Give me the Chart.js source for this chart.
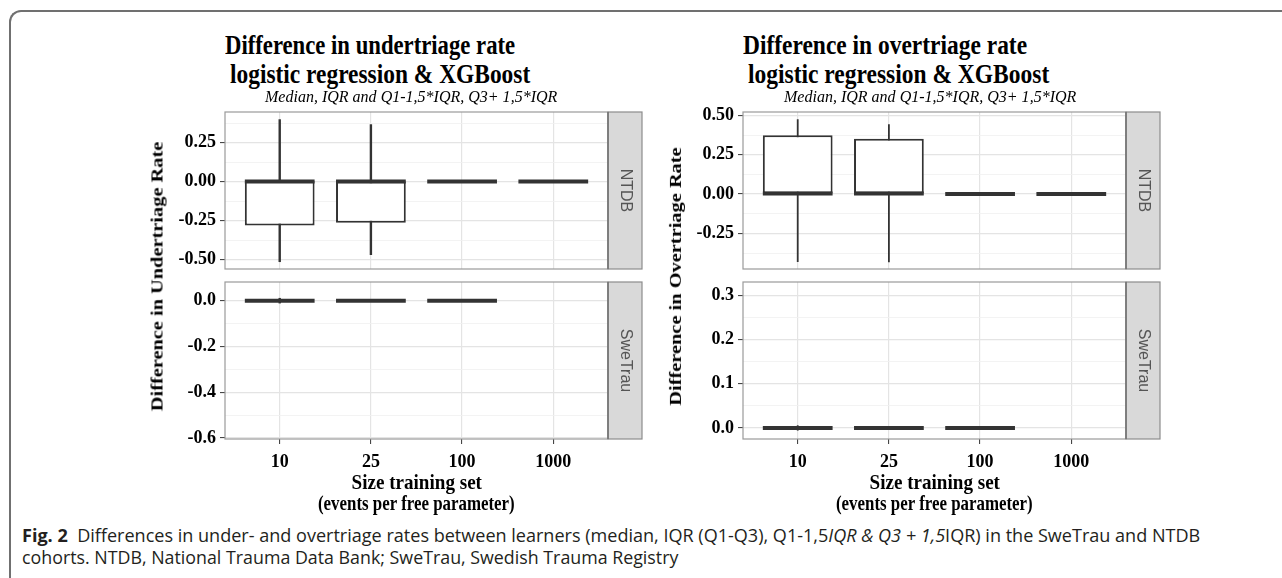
<!DOCTYPE html>
<html>
<head>
<meta charset="utf-8">
<script src="https://cdn.jsdelivr.net/npm/chart.js@4.4.1/dist/chart.umd.min.js"></script>
<style>
  html, body { margin: 0; padding: 0; background: #fff; }
  body { width: 1282px; height: 578px; position: relative; overflow: hidden; }
  #frame { position: absolute; left: 9px; top: 10px; width: 1400px; height: 700px;
           border-top: 2px solid #707070; border-left: 2px solid #707070; border-top-left-radius: 12px; }
  canvas { position: absolute; }
  .t { position: absolute; white-space: nowrap; line-height: 1.15; }
</style>
</head>
<body>
<div id="frame"></div>
<script>
// categories on the x axis
const sizes = ['10', '25', '100', '1000'];

// undertriage difference, NTDB
const underNtdbQ1 = [-0.281, -0.264, 0, 0];
const underNtdbMed = [0, 0, 0, 0];
const underNtdbQ3 = [0.004, 0.003, 0, 0];
const underNtdbLo = [-0.515, -0.470, 0, 0];
const underNtdbHi = [0.399, 0.367, 0, 0];

// undertriage difference, SweTrau (no box at 1000)
const underSweQ1 = [0, 0, 0, null];
const underSweMed = [0, 0, 0, null];
const underSweQ3 = [0, 0, 0, null];
const underSweLo = [-0.012, 0, 0, null];
const underSweHi = [0.012, 0, 0, null];

// overtriage difference, NTDB
const overNtdbQ1 = [0, 0, 0, 0];
const overNtdbMed = [0.004, 0.004, 0, 0];
const overNtdbQ3 = [0.373, 0.352, 0, 0];
const overNtdbLo = [-0.431, -0.433, 0, 0];
const overNtdbHi = [0.475, 0.443, 0, 0];

// overtriage difference, SweTrau
const overSweQ1 = [0, 0, 0, null];
const overSweMed = [0, 0, 0, null];
const overSweQ3 = [0, 0, 0, null];
const overSweLo = [-0.006, 0, 0, null];
const overSweHi = [0.006, 0, 0, null];

// y ticks and limits per facet
const underNtdbTicks = [-0.5, -0.25, 0, 0.25];
const underNtdbTickLabels = ['-0.50', '-0.25', '0.00', '0.25'];
const underNtdbRange = [-0.5595, 0.4455];
const underSweTicks = [-0.6, -0.4, -0.2, 0];
const underSweTickLabels = ['-0.6', '-0.4', '-0.2', '0.0'];
const underSweRange = [-0.6044, 0.0816];
const overNtdbTicks = [-0.25, 0, 0.25, 0.5];
const overNtdbTickLabels = ['-0.25', '0.00', '0.25', '0.50'];
const overNtdbRange = [-0.4755, 0.521];
const overSweTicks = [0, 0.1, 0.2, 0.3];
const overSweTickLabels = ['0.0', '0.1', '0.2', '0.3'];
const overSweRange = [-0.025, 0.330];

Chart.defaults.font.family = '"Liberation Serif", "Times New Roman", serif';

const PAD = 16, AXIS_W = 95, STRIP_W = 34, XAXIS_H = 40;
const tickFont = { family: '"Liberation Serif", "Times New Roman", serif', size: 18, weight: 'bold' };

const facetPlugin = {
  id: 'facet',
  afterDatasetsDraw(chart) {
    const ctx = chart.ctx;
    const meta = chart.getDatasetMeta(0);
    const y = chart.scales.y;
    ctx.save();
    ctx.strokeStyle = '#333';
    ctx.lineWidth = 4;
    meta.data.forEach((bar, j) => {
      const raw = chart.data.datasets[0].data[j];
      const py = y.getPixelForValue(raw.med);
      ctx.beginPath();
      ctx.moveTo(bar.x - bar.width / 2, py);
      ctx.lineTo(bar.x + bar.width / 2, py);
      ctx.stroke();
    });
    ctx.restore();
  },
  afterDraw(chart, args, opts) {
    const a = chart.chartArea;
    const ctx = chart.ctx;
    const h = a.bottom - a.top;
    ctx.save();
    ctx.fillStyle = '#d9d9d9';
    ctx.fillRect(a.right, a.top, STRIP_W, h);
    ctx.strokeStyle = '#8c8c8c';
    ctx.lineWidth = 1.2;
    ctx.strokeRect(a.right, a.top, STRIP_W, h);
    ctx.strokeStyle = '#9a9a9a';
    ctx.strokeRect(a.left, a.top, a.right - a.left, h);
    ctx.strokeStyle = '#666';
    ctx.beginPath();
    ctx.moveTo(a.right, a.top);
    ctx.lineTo(a.right, a.bottom);
    ctx.stroke();
    ctx.translate(a.right + STRIP_W / 2, a.top + h / 2);
    ctx.rotate(Math.PI / 2);
    ctx.fillStyle = '#555';
    ctx.font = '16px "Liberation Sans", Arial, sans-serif';
    ctx.textAlign = 'center';
    ctx.textBaseline = 'middle';
    ctx.fillText(opts.label, 0, 0);
    ctx.restore();
  }
};

function facet(cfg) {
  const showX = cfg.showX;
  const cv = document.createElement('canvas');
  cv.width = PAD + AXIS_W + cfg.w + STRIP_W + 6;
  cv.height = PAD + cfg.h + (showX ? XAXIS_H : 0) + PAD;
  document.body.appendChild(cv);

  const boxes = [], whiskers = [];
  sizes.forEach((s, i) => {
    if (cfg.q1[i] === null) return;
    boxes.push({ x: i + 1, y: [cfg.q1[i], cfg.q3[i]], med: cfg.med[i] });
    whiskers.push({ x: i + 1, y: [cfg.lo[i], cfg.hi[i]] });
  });

  // major ticks plus the minor ones halfway between them
  const step = cfg.ticks[1] - cfg.ticks[0];
  const yTicks = [];
  cfg.ticks.forEach((v, i) => {
    yTicks.push({ value: v, label: cfg.labels[i], minor: false });
    yTicks.push({ value: v + step / 2, label: '', minor: true });
  });
  yTicks.unshift({ value: cfg.ticks[0] - step / 2, label: '', minor: true });
  const inside = yTicks.filter(t => t.value >= cfg.range[0] && t.value <= cfg.range[1]);

  const chart = new Chart(cv, {
    type: 'bar',
    data: {
      datasets: [
        { data: boxes, backgroundColor: '#fff', borderColor: '#333', borderWidth: 2,
          borderSkipped: false, grouped: false, categoryPercentage: 1, barPercentage: 0.765, order: 1 },
        { data: whiskers, backgroundColor: '#333', borderWidth: 0, grouped: false,
          maxBarThickness: cfg.whisker, order: 2 }
      ]
    },
    options: {
      responsive: false,
      animation: false,
      layout: { padding: { left: PAD, top: PAD, bottom: PAD, right: STRIP_W + 6 } },
      plugins: {
        legend: { display: false },
        tooltip: { enabled: false },
        facet: { label: cfg.strip }
      },
      scales: {
        x: {
          type: 'linear', min: 0.4, max: 4.6, offset: false,
          afterBuildTicks: s => { s.ticks = sizes.map((v, i) => ({ value: i + 1 })); },
          afterFit: s => { s.height = showX ? XAXIS_H : 0; },
          ticks: { display: showX, autoSkip: false, maxRotation: 0, padding: 8,
                   font: tickFont, color: '#000', callback: (v, i) => sizes[i] },
          grid: { offset: false, color: '#e4e4e4', lineWidth: 1.2, drawTicks: showX,
                  tickLength: 5, tickColor: '#333', tickWidth: 1 },
          border: { display: false }
        },
        y: {
          min: cfg.range[0], max: cfg.range[1],
          afterBuildTicks: s => { s.ticks = inside.map(t => ({ value: t.value })); },
          afterFit: s => { s.width = AXIS_W; },
          ticks: { autoSkip: false, padding: 4, font: tickFont, color: '#000',
                   callback: (v, i) => inside[i].label },
          grid: {
            color: c => (inside[c.index] && inside[c.index].minor) ? '#f0f0f0' : '#e4e4e4',
            lineWidth: c => (inside[c.index] && inside[c.index].minor) ? 0.8 : 1.2,
            tickLength: 5, tickWidth: 1,
            tickColor: c => (inside[c.index] && inside[c.index].minor) ? 'rgba(0,0,0,0)' : '#333'
          },
          border: { display: false }
        }
      }
    },
    plugins: [facetPlugin]
  });

  const a = chart.chartArea;
  cv.style.left = (cfg.x - a.left) + 'px';
  cv.style.top = (cfg.y - a.top) + 'px';
  return chart;
}

facet({ x: 225, y: 112, w: 383, h: 157, strip: 'NTDB', showX: false, whisker: 2.4,
        q1: underNtdbQ1, med: underNtdbMed, q3: underNtdbQ3, lo: underNtdbLo, hi: underNtdbHi,
        ticks: underNtdbTicks, labels: underNtdbTickLabels, range: underNtdbRange });
facet({ x: 225, y: 282, w: 383, h: 157, strip: 'SweTrau', showX: true, whisker: 2.4,
        q1: underSweQ1, med: underSweMed, q3: underSweQ3, lo: underSweLo, hi: underSweHi,
        ticks: underSweTicks, labels: underSweTickLabels, range: underSweRange });
facet({ x: 743, y: 112, w: 383, h: 157, strip: 'NTDB', showX: false, whisker: 1.8,
        q1: overNtdbQ1, med: overNtdbMed, q3: overNtdbQ3, lo: overNtdbLo, hi: overNtdbHi,
        ticks: overNtdbTicks, labels: overNtdbTickLabels, range: overNtdbRange });
facet({ x: 743, y: 282, w: 383, h: 157, strip: 'SweTrau', showX: true, whisker: 1.8,
        q1: overSweQ1, med: overSweMed, q3: overSweQ3, lo: overSweLo, hi: overSweHi,
        ticks: overSweTicks, labels: overSweTickLabels, range: overSweRange });

// text outside the plots, squeezed to the widths seen in the figure
function text(html, o) {
  const el = document.createElement('div');
  el.className = 't';
  el.innerHTML = html;
  el.style.font = o.font;
  el.style.color = o.color || '#000';
  document.body.appendChild(el);
  const w = el.offsetWidth, h = el.offsetHeight;
  const k = o.width ? o.width / w : 1;
  const sy = o.sy || 1;
  el.style.top = (o.y - h / 2) + 'px';
  if (o.align === 'left') {
    el.style.left = o.x + 'px';
    el.style.transformOrigin = '0 50%';
    el.style.transform = `scale(${k}, ${sy})`;
  } else {
    el.style.left = (o.x - w / 2) + 'px';
    el.style.transform = `rotate(${o.rot || 0}deg) scale(${k}, ${sy})`;
  }
}

const serif = '"Liberation Serif", "Times New Roman", serif';
const titleFont = `bold 27px ${serif}`;
text('Difference in undertriage rate', { font: titleFont, x: 225, y: 45, width: 290, align: 'left' });
text('logistic regression &amp; XGBoost', { font: titleFont, x: 230, y: 74, width: 300, align: 'left' });
text('Difference in overtriage rate', { font: titleFont, x: 743, y: 45, width: 284, align: 'left' });
text('logistic regression &amp; XGBoost', { font: titleFont, x: 748, y: 74, width: 301, align: 'left' });

const subFont = `italic 17px ${serif}`;
text('Median, IQR and Q1-1,5*IQR, Q3+ 1,5*IQR', { font: subFont, x: 411, y: 97, width: 292 });
text('Median, IQR and Q1-1,5*IQR, Q3+ 1,5*IQR', { font: subFont, x: 930, y: 97, width: 292 });

const axisFont = `bold 20px ${serif}`;
text('Difference in Undertriage Rate', { font: axisFont, x: 157, y: 276, rot: -90, width: 270, sy: 0.85 });
text('Difference in Overtriage Rate', { font: axisFont, x: 675, y: 276, rot: -90, width: 258, sy: 0.85 });

const xFont = `bold 21px ${serif}`;
text('Size training set', { font: xFont, x: 416, y: 482, width: 130 });
text('(events per free parameter)', { font: xFont, x: 416, y: 503, width: 197 });
text('Size training set', { font: xFont, x: 934, y: 482, width: 130 });
text('(events per free parameter)', { font: xFont, x: 934, y: 503, width: 197 });

const capFont = '18px "Open Sans", "Noto Sans", sans-serif';
text('<b>Fig. 2</b>&nbsp; Differences in under- and overtriage rates between learners (median, IQR (Q1-Q3), Q1-1,5<i>IQR &amp; Q3 + 1,5</i>IQR) in the SweTrau and NTDB',
     { font: capFont, color: '#231f20', x: 22, y: 535, width: 1178, align: 'left' });
text('cohorts. NTDB, National Trauma Data Bank; SweTrau, Swedish Trauma Registry',
     { font: capFont, color: '#231f20', x: 22, y: 557, width: 656, align: 'left' });
</script>
</body>
</html>
